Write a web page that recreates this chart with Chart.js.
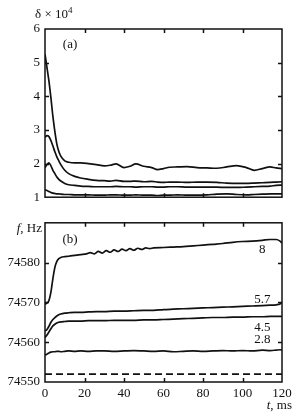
<!DOCTYPE html>
<html>
<head>
<meta charset="utf-8">
<script src="https://cdn.jsdelivr.net/npm/chart.js@4/dist/chart.umd.min.js"></script>
<style>
  body { margin: 0; background: #fff; }
  #wrap { position: relative; width: 300px; height: 420px; }
  canvas { position: absolute; left: 0; }
</style>
</head>
<body>
<div id="wrap">
  <canvas id="chartA" width="300" height="210" style="top:0"></canvas>
  <canvas id="chartB" width="300" height="210" style="top:210px"></canvas>
</div>
<script>
// panel (a): delta x 10^4 vs t, ms
const tA = [0, 1, 2, 3, 4, 5, 6, 7, 8, 10, 12, 15, 18, 22, 26, 30, 33, 36, 40, 43,
            46, 50, 54, 57, 60, 63, 67, 72, 77, 82, 87, 92, 97, 102, 106, 110, 114, 117, 120];
const delta1 = [5.25, 4.85, 4.45, 3.95, 3.4, 2.95, 2.58, 2.36, 2.22, 2.08,
                2.04, 2.02, 2.02, 2.0, 1.97, 1.93, 1.95, 1.99, 1.88, 1.92,
                1.99, 1.92, 1.88, 1.82, 1.85, 1.89, 1.9, 1.91, 1.88, 1.87,
                1.86, 1.9, 1.94, 1.88, 1.8, 1.85, 1.9, 1.87, 1.85];
const delta2 = [2.78, 2.83, 2.8, 2.68, 2.52, 2.35, 2.2, 2.08, 1.97, 1.8,
                1.7, 1.62, 1.57, 1.53, 1.5, 1.49, 1.48, 1.5, 1.47, 1.47,
                1.48, 1.46, 1.47, 1.45, 1.44, 1.45, 1.45, 1.44, 1.45, 1.45,
                1.44, 1.42, 1.41, 1.41, 1.42, 1.43, 1.44, 1.45, 1.46];
const delta3 = [1.88, 1.97, 2.02, 1.93, 1.8, 1.7, 1.6, 1.53, 1.48, 1.41,
                1.37, 1.35, 1.33, 1.32, 1.31, 1.31, 1.31, 1.32, 1.31, 1.31,
                1.3, 1.31, 1.31, 1.3, 1.3, 1.31, 1.31, 1.3, 1.3, 1.3,
                1.3, 1.29, 1.29, 1.3, 1.31, 1.32, 1.33, 1.35, 1.36];
const delta4 = [1.22, 1.2, 1.17, 1.14, 1.12, 1.11, 1.1, 1.1, 1.09, 1.08,
                1.08, 1.07, 1.07, 1.07, 1.06, 1.06, 1.07, 1.07, 1.06, 1.06,
                1.07, 1.06, 1.06, 1.05, 1.06, 1.06, 1.07, 1.06, 1.06, 1.07,
                1.09, 1.1, 1.08, 1.07, 1.08, 1.09, 1.1, 1.1, 1.1];

// panel (b): f, Hz vs t, ms
const t8 = [0, 1, 2, 3, 4, 5, 6, 7, 8, 10, 12, 15, 18, 21, 23, 25, 27, 29, 31, 33,
            35, 37, 39, 41, 43, 45, 47, 49, 51, 53, 55, 60, 65, 70, 75, 80, 85, 90, 95, 100,
            105, 110, 114, 117, 119, 120];
const f8 = [74569.6, 74569.8, 74570.5, 74572.6, 74576.0, 74578.8, 74580.3, 74581.0, 74581.3, 74581.5,
            74581.6, 74581.8, 74582.0, 74582.2, 74582.5, 74582.2, 74582.8, 74582.4, 74583.0, 74582.6,
            74583.2, 74582.8, 74583.4, 74583.0, 74583.5, 74583.1, 74583.6, 74583.3, 74583.7, 74583.5,
            74583.7, 74583.8, 74583.9, 74584.0, 74584.2, 74584.4, 74584.6, 74584.8, 74585.1, 74585.3,
            74585.4, 74585.6, 74585.8, 74585.8, 74585.4, 74584.9];
const tB = [0, 1, 2, 3, 4, 5, 6, 7, 8, 10, 12, 15, 18, 22, 26, 30, 35, 40, 45, 50,
            55, 60, 65, 70, 75, 80, 85, 90, 95, 100, 105, 110, 114, 117, 119, 120];
const f57 = [74562.8, 74563.2, 74564.0, 74565.0, 74565.7, 74566.2, 74566.6, 74566.9, 74567.1, 74567.3,
             74567.4, 74567.5, 74567.5, 74567.6, 74567.7, 74567.7, 74567.8, 74567.8, 74567.9, 74568.0,
             74568.0, 74568.2, 74568.3, 74568.4, 74568.5, 74568.6, 74568.7, 74568.8, 74568.9, 74569.0,
             74569.1, 74569.2, 74569.3, 74569.4, 74569.6, 74570.0];
const f45 = [74561.2, 74561.8, 74562.6, 74563.4, 74564.1, 74564.5, 74564.8, 74565.0, 74565.1, 74565.2,
             74565.3, 74565.3, 74565.3, 74565.4, 74565.4, 74565.4, 74565.5, 74565.5, 74565.5, 74565.6,
             74565.6, 74565.7, 74565.8, 74565.9, 74566.0, 74566.1, 74566.2, 74566.2, 74566.3, 74566.3,
             74566.4, 74566.4, 74566.5, 74566.5, 74566.5, 74566.5];
const f28 = [74556.7, 74557.0, 74557.3, 74557.5, 74557.6, 74557.6, 74557.7, 74557.7, 74557.6, 74557.7,
             74557.8, 74557.7, 74557.8, 74557.7, 74557.8, 74557.8, 74557.7, 74557.8, 74557.9, 74557.8,
             74557.7, 74557.8, 74557.6, 74557.7, 74557.8, 74557.7, 74557.8, 74557.9, 74557.8, 74557.9,
             74557.8, 74558.0, 74557.9, 74558.0, 74558.1, 74558.0];
const tDash = [0, 120];
const fDash = [74552, 74552];

const curveLabels = ['8', '5.7', '4.5', '2.8'];
const labelT = [110, 110, 110, 110];
const labelF = [74583.2, 74570.8, 74563.6, 74560.6];

const FONT = "'Liberation Serif', serif";
const pts = (xs, ys) => xs.map((x, i) => ({ x, y: ys[i] }));
const line = (xs, ys, dash) => ({
  data: pts(xs, ys),
  borderColor: '#111',
  borderWidth: 1.7,
  borderDash: dash || [],
  pointRadius: 0,
  cubicInterpolationMode: 'monotone',
  fill: false
});

// frame with inward ticks, plus text annotations
const framePlugin = {
  id: 'frame',
  afterDraw(chart, args, opts) {
    const { ctx, chartArea: a, scales: { x, y } } = chart;
    ctx.save();
    ctx.strokeStyle = '#111';
    ctx.lineWidth = 1.5;
    ctx.strokeRect(a.left, a.top, a.width, a.height);
    ctx.beginPath();
    x.ticks.forEach(t => {
      if (t.value <= x.min || t.value >= x.max) return;
      const px = Math.round(x.getPixelForValue(t.value)) + 0.5;
      ctx.moveTo(px, a.top); ctx.lineTo(px, a.top + 4);
      ctx.moveTo(px, a.bottom); ctx.lineTo(px, a.bottom - 4);
    });
    y.ticks.forEach(t => {
      if (t.value <= y.min || t.value >= y.max) return;
      const py = Math.round(y.getPixelForValue(t.value)) + 0.5;
      ctx.moveTo(a.left, py); ctx.lineTo(a.left + 4, py);
      ctx.moveTo(a.right, py); ctx.lineTo(a.right - 4, py);
    });
    ctx.stroke();
    ctx.fillStyle = '#111';
    ctx.textBaseline = 'middle';
    (opts.texts || []).forEach(tx => {
      let px, py;
      if (tx.data) { px = x.getPixelForValue(tx.data[0]); py = y.getPixelForValue(tx.data[1]); }
      else { px = a.left + tx.dx; py = (tx.fromBottom ? a.bottom : a.top) + tx.dy; }
      let cur = px;
      if (tx.align !== 'left') {
        let w = 0;
        tx.parts.forEach(p => { ctx.font = p[1]; w += ctx.measureText(p[0]).width; });
        cur = tx.align === 'center' ? px - w / 2 : px - w;
      }
      ctx.textAlign = 'left';
      tx.parts.forEach(p => {
        ctx.font = p[1];
        ctx.fillText(p[0], cur, py + (p[2] || 0));
        cur += ctx.measureText(p[0]).width;
      });
    });
    ctx.restore();
  }
};

const tickFont = { family: FONT, size: 13 };
const reg = '13px ' + FONT;
const ita = 'italic 13px ' + FONT;

function yAxis(min, max, hideTop) {
  return {
    type: 'linear', min, max,
    grid: { display: false, drawTicks: false },
    border: { display: false },
    ticks: {
      stepSize: (max - min) / (hideTop ? 4 : 5),
      color: '#111', font: tickFont, padding: 5,
      callback: v => (hideTop && v === max) ? '' : String(v)
    },
    afterFit: s => { s.width = 45; }
  };
}

new Chart(document.getElementById('chartA'), {
  type: 'line',
  data: { datasets: [line(tA, delta1), line(tA, delta2), line(tA, delta3), line(tA, delta4)] },
  options: {
    responsive: false, animation: false, devicePixelRatio: 1,
    layout: { padding: { top: 29, right: 18, bottom: 7, left: 0 } },
    plugins: {
      legend: { display: false }, tooltip: { enabled: false },
      frame: { texts: [
        { dx: -10, dy: -14, align: 'left', parts: [['δ × 10', reg], ['4', '9px ' + FONT, -4]] },
        { data: [12.7, 5.55], align: 'center', parts: [['(a)', reg]] }
      ] }
    },
    scales: {
      x: {
        type: 'linear', min: 0, max: 120,
        grid: { display: false, drawTicks: false }, border: { display: false },
        ticks: { display: false, stepSize: 20 },
        afterFit: s => { s.height = 0; }
      },
      y: yAxis(1, 6, false)
    }
  },
  plugins: [framePlugin]
});

new Chart(document.getElementById('chartB'), {
  type: 'line',
  data: { datasets: [line(t8, f8), line(tB, f57), line(tB, f45), line(tB, f28), line(tDash, fDash, [7, 4])] },
  options: {
    responsive: false, animation: false, devicePixelRatio: 1,
    layout: { padding: { top: 7, right: 18, bottom: 10, left: 0 } },
    plugins: {
      legend: { display: false }, tooltip: { enabled: false },
      frame: { texts: [
        { dx: -3, dy: 6, align: 'right', parts: [['f', ita], [', Hz', reg]] },
        { data: [12.7, 74585.7], align: 'center', parts: [['(b)', reg]] },
        { dx: 247, dy: 24, fromBottom: true, align: 'right', parts: [['t', ita], [', ms', reg]] }
      ].concat(curveLabels.map((c, i) => ({ data: [labelT[i], labelF[i]], align: 'center', parts: [[c, reg]] }))) }
    },
    scales: {
      x: {
        type: 'linear', min: 0, max: 120,
        grid: { display: false, drawTicks: false }, border: { display: false },
        ticks: { stepSize: 20, color: '#111', font: tickFont, padding: 4, maxRotation: 0 },
        afterFit: s => { s.height = 28; }
      },
      y: yAxis(74550, 74590, true)
    }
  },
  plugins: [framePlugin]
});
</script>
</body>
</html>
